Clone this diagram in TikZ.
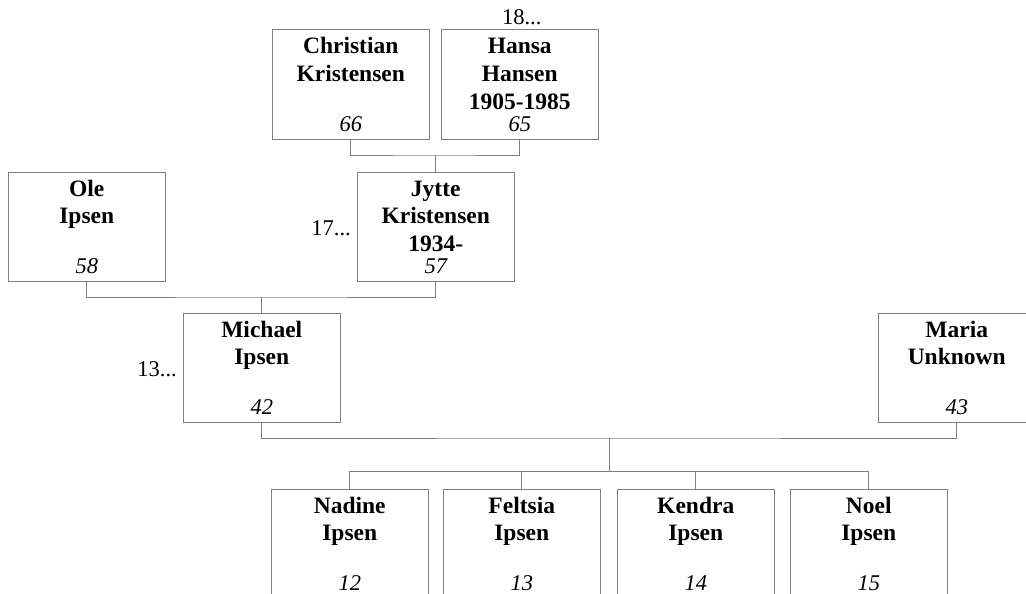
\documentclass[tikz,border=0pt]{standalone}
\usepackage{fontspec}
\setmainfont{Liberation Serif}
\usetikzlibrary{calc}
\definecolor{linegray}{RGB}{128,128,128}
\tikzset{
  pbox/.style={draw=linegray, line width=1pt, rectangle, anchor=north west,
    minimum width=157.5pt, minimum height=109pt, inner sep=0pt, outer sep=0pt},
  nm/.style={anchor=base, inner sep=0pt, font=\fontsize{23.5}{27.7}\selectfont\bfseries},
  num/.style={anchor=base, inner sep=0pt, font=\fontsize{22.5}{26}\selectfont\itshape},
  gen/.style={inner sep=0pt, font=\fontsize{22.5}{26}\selectfont},
  conn/.style={draw=linegray, line width=1pt}
}
% #1 node name, #2 x, #3 y, #4 lines, #5 number
\newcommand{\pers}[5]{%
  \node[pbox] (#1) at (#2,#3) {};
  \foreach \t [count=\i] in {#4}
    \node[nm] (#1-\i) at ([yshift={-24pt-(\i-1)*27.7pt}]#1.north) {\t};
  \node[num] (#1-n) at ([yshift=8pt]#1.south) {#5};
}
\begin{document}
\begin{tikzpicture}[x=1pt,y=-1pt]
\useasboundingbox (0,0) rectangle (1026,594);
\clip (0,0) rectangle (1026,594);

\pers{chris}{272}{30}{Christian,Kristensen}{66}
\pers{hansa}{441}{30}{Hansa,Hansen,1905-1985}{65}
\pers{jytte}{357}{172}{Jytte,Kristensen,1934-}{57}
\pers{ole}{8}{172}{Ole,Ipsen}{58}
\pers{michael}{183}{313}{Michael,Ipsen}{42}
\pers{maria}{878}{313}{Maria,Unknown}{43}
\pers{nadine}{271}{489}{Nadine,Ipsen}{12}
\pers{feltsia}{443}{489}{Feltsia,Ipsen}{13}
\pers{kendra}{617}{489}{Kendra,Ipsen}{14}
\pers{noel}{790}{489}{Noel,Ipsen}{15}

\node[gen, anchor=base] (g18) at ([xshift=2pt,yshift=5pt]hansa.north) {18...};
\node[gen, anchor=base east] (g17) at ([xshift=-6pt,yshift=-8.5pt]jytte.west) {17...};
\node[gen, anchor=base east] (g13) at ([xshift=-6pt,yshift=-8.5pt]michael.west) {13...};

% family 1
\coordinate (j1) at ($(chris.south)!0.5!(hansa.south)+(0,16)$);
\draw[conn] (chris.south) |- (j1) -| (hansa.south);
\draw[conn] (jytte.north) -- (jytte.north |- j1);
% family 2
\coordinate (j2) at ($(ole.south)!0.5!(jytte.south)+(0,16)$);
\draw[conn] (ole.south) |- (j2) -| (jytte.south);
\draw[conn] (michael.north) -- (michael.north |- j2);
% family 3
\coordinate (j3) at ($(michael.south)!0.5!(maria.south)+(0,16)$);
\draw[conn] (michael.south) |- (j3) -| (maria.south);
\coordinate (k3) at ($(j3)+(0,33.4)$);
\draw[conn] (j3) -- (k3);
\draw[conn] (nadine.north) |- (k3) -| (noel.north);
\draw[conn] (feltsia.north) -- (feltsia.north |- k3);
\draw[conn] (kendra.north) -- (kendra.north |- k3);
\end{tikzpicture}
\end{document}
